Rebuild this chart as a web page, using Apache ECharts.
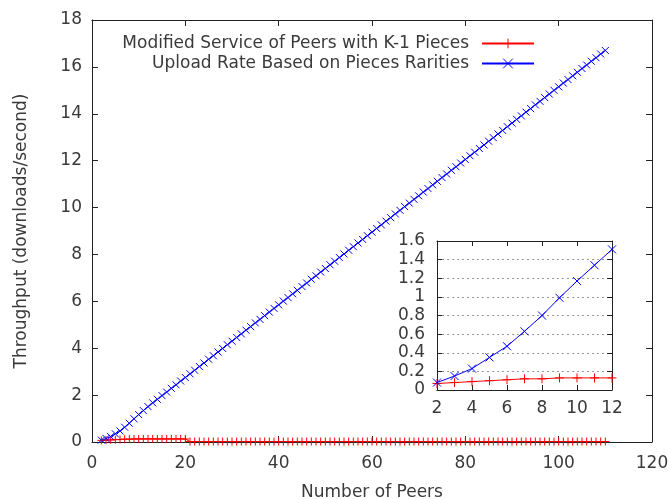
<!DOCTYPE html>
<html>
<head>
<meta charset="utf-8">
<script src="https://cdn.jsdelivr.net/npm/echarts@6/dist/echarts.min.js"></script>
<style>
  html, body { margin: 0; padding: 0; background: #fff; }
  #chart { width: 668px; height: 499px; }
</style>
</head>
<body>
<div id="chart"></div>
<script>
// number of peers, 2 .. 110
const peers = [];
for (let p = 2; p <= 110; p++) peers.push(p);

const modifiedService = [
  0.07, 0.08, 0.09, 0.10, 0.11, 0.12, 0.12, 0.13, 0.13, 0.13, 0.13,
  0.13, 0.13, 0.13, 0.13, 0.13, 0.13, 0.13, 0.13,
  0.02, 0.02, 0.02, 0.02, 0.02, 0.02, 0.02, 0.02, 0.02, 0.02,
  0.02, 0.02, 0.02, 0.02, 0.02, 0.02, 0.02, 0.02, 0.02, 0.02,
  0.02, 0.02, 0.02, 0.02, 0.02, 0.02, 0.02, 0.02, 0.02, 0.02,
  0.02, 0.02, 0.02, 0.02, 0.02, 0.02, 0.02, 0.02, 0.02, 0.02,
  0.02, 0.02, 0.02, 0.02, 0.02, 0.02, 0.02, 0.02, 0.02, 0.02,
  0.02, 0.02, 0.02, 0.02, 0.02, 0.02, 0.02, 0.02, 0.02, 0.02,
  0.02, 0.02, 0.02, 0.02, 0.02, 0.02, 0.02, 0.02, 0.02, 0.02,
  0.02, 0.02, 0.02, 0.02, 0.02, 0.02, 0.02, 0.02, 0.02, 0.02,
  0.02, 0.02, 0.02, 0.02, 0.02, 0.02, 0.02, 0.02, 0.02, 0.02
];

const uploadRarity = [
  0.08, 0.15, 0.23, 0.35, 0.47, 0.63, 0.80, 0.99, 1.17, 1.34, 1.51,
  1.67, 1.82, 1.98, 2.13, 2.29, 2.44, 2.60, 2.75,
  2.91, 3.06, 3.22, 3.37, 3.53, 3.68, 3.84, 3.99, 4.15, 4.30,
  4.46, 4.61, 4.77, 4.92, 5.08, 5.23, 5.39, 5.54, 5.70, 5.85,
  6.01, 6.16, 6.32, 6.47, 6.63, 6.78, 6.94, 7.09, 7.25, 7.40,
  7.56, 7.71, 7.87, 8.02, 8.18, 8.33, 8.49, 8.64, 8.80, 8.95,
  9.11, 9.26, 9.42, 9.57, 9.73, 9.88, 10.04, 10.19, 10.35, 10.50,
  10.66, 10.81, 10.97, 11.12, 11.28, 11.43, 11.59, 11.74, 11.90, 12.05,
  12.21, 12.36, 12.52, 12.67, 12.83, 12.98, 13.14, 13.29, 13.45, 13.60,
  13.76, 13.91, 14.07, 14.22, 14.38, 14.53, 14.69, 14.84, 15.00, 15.15,
  15.31, 15.46, 15.62, 15.77, 15.93, 16.08, 16.24, 16.39, 16.55, 16.70
];

// inset zooms on the first peers (2..12)
const insetCount = 11;

const seriesNames = ['Modified Service of Peers with K-1 Pieces', 'Upload Rate Based on Pieces Rarities'];

const plusSym = 'path://M5,0L5,10M0,5L10,5';
const crossSym = 'path://M0,0L10,10M10,0L0,10';
const fontFam = 'DejaVu Sans';
const txtColor = '#3a3a3a';

const pairs = (ys, n) => ys.slice(0, n).map((y, i) => [peers[i], y]);

function frameAxis(extra) {
  return Object.assign({
    axisLine: { show: true, onZero: false, lineStyle: { color: '#222', width: 1 } },
    axisTick: { show: true, inside: true, length: 6, lineStyle: { color: '#222' } },
    axisLabel: { show: false },
    splitLine: { show: false }
  }, extra);
}
const labelStyle = { color: txtColor, fontSize: 17, fontFamily: fontFam };
const legendBase = {
  right: 133, align: 'right', padding: 0,
  itemWidth: 52, itemHeight: 12, selectedMode: false,
  itemStyle: { borderWidth: 1 },
  textStyle: { fontSize: 17, color: txtColor, fontFamily: fontFam, padding: [0, 8, 0, 0] }
};

const chart = echarts.init(document.getElementById('chart'), null, { renderer: 'canvas' });

chart.setOption({
  animation: false,
  backgroundColor: '#fff',
  textStyle: { fontFamily: fontFam },
  legend: [
    Object.assign({ data: [seriesNames[0]], top: 35 }, legendBase),
    Object.assign({ data: [seriesNames[1]], top: 55 }, legendBase)
  ],
  grid: [
    { left: 92, right: 16, top: 20, bottom: 57, containLabel: false, outerBoundsMode: 'none' },
    { left: 437, right: 56, top: 241, bottom: 109, containLabel: false, outerBoundsMode: 'none' }
  ],
  xAxis: [
    frameAxis({
      gridIndex: 0, type: 'value', min: 0, max: 120, interval: 20, position: 'bottom',
      axisLabel: Object.assign({ show: true, margin: 13 }, labelStyle),
      name: 'Number of Peers', nameLocation: 'middle', nameGap: 42,
      nameTextStyle: { fontSize: 17, color: txtColor, fontFamily: fontFam }
    }),
    frameAxis({ gridIndex: 0, type: 'value', min: 0, max: 120, interval: 20, position: 'top' }),
    frameAxis({
      gridIndex: 1, type: 'value', min: 2, max: 12, interval: 2, position: 'bottom',
      axisTick: { show: true, inside: true, length: 5, lineStyle: { color: '#222' } },
      axisLabel: Object.assign({ show: true, margin: 10 }, labelStyle)
    }),
    frameAxis({
      gridIndex: 1, type: 'value', min: 2, max: 12, interval: 2, position: 'top',
      axisTick: { show: true, inside: true, length: 5, lineStyle: { color: '#222' } }
    })
  ],
  yAxis: [
    frameAxis({
      gridIndex: 0, type: 'value', min: 0, max: 18, interval: 2, position: 'left',
      axisLabel: Object.assign({ show: true, margin: 10 }, labelStyle),
      name: 'Throughput (downloads/second)', nameLocation: 'middle', nameGap: 62,
      nameTextStyle: { fontSize: 17, color: txtColor, fontFamily: fontFam }
    }),
    frameAxis({ gridIndex: 0, type: 'value', min: 0, max: 18, interval: 2, position: 'right' }),
    frameAxis({
      gridIndex: 1, type: 'value', min: 0, max: 1.6, interval: 0.2, position: 'left',
      axisTick: { show: true, inside: true, length: 5, lineStyle: { color: '#222' } },
      axisLabel: Object.assign({ show: true, margin: 12 }, labelStyle),
      splitLine: { show: true, lineStyle: { color: '#999', type: [2, 3], width: 1 } }
    }),
    frameAxis({
      gridIndex: 1, type: 'value', min: 0, max: 1.6, interval: 0.2, position: 'right',
      axisTick: { show: true, inside: true, length: 5, lineStyle: { color: '#222' } }
    })
  ],
  series: [
    {
      name: seriesNames[0], type: 'line', xAxisIndex: 0, yAxisIndex: 0,
      data: pairs(modifiedService, peers.length),
      symbol: plusSym, symbolSize: 8, showAllSymbol: true,
      lineStyle: { color: '#ff0000', width: 1 },
      itemStyle: { color: 'transparent', borderColor: '#ff0000', borderWidth: 1 }
    },
    {
      name: seriesNames[1], type: 'line', xAxisIndex: 0, yAxisIndex: 0,
      data: pairs(uploadRarity, peers.length),
      symbol: crossSym, symbolSize: 7, showAllSymbol: true,
      lineStyle: { color: '#0000ff', width: 1 },
      itemStyle: { color: 'transparent', borderColor: '#0000ff', borderWidth: 1 }
    },
    {
      name: 'inset-k1', type: 'line', xAxisIndex: 2, yAxisIndex: 2,
      data: pairs(modifiedService, insetCount),
      symbol: plusSym, symbolSize: 9, showAllSymbol: true,
      lineStyle: { color: '#ff0000', width: 1 },
      itemStyle: { color: 'transparent', borderColor: '#ff0000', borderWidth: 1 }
    },
    {
      name: 'inset-rarity', type: 'line', xAxisIndex: 2, yAxisIndex: 2,
      data: pairs(uploadRarity, insetCount),
      symbol: crossSym, symbolSize: 8, showAllSymbol: true,
      lineStyle: { color: '#0000ff', width: 1 },
      itemStyle: { color: 'transparent', borderColor: '#0000ff', borderWidth: 1 }
    }
  ]
});
</script>
</body>
</html>
